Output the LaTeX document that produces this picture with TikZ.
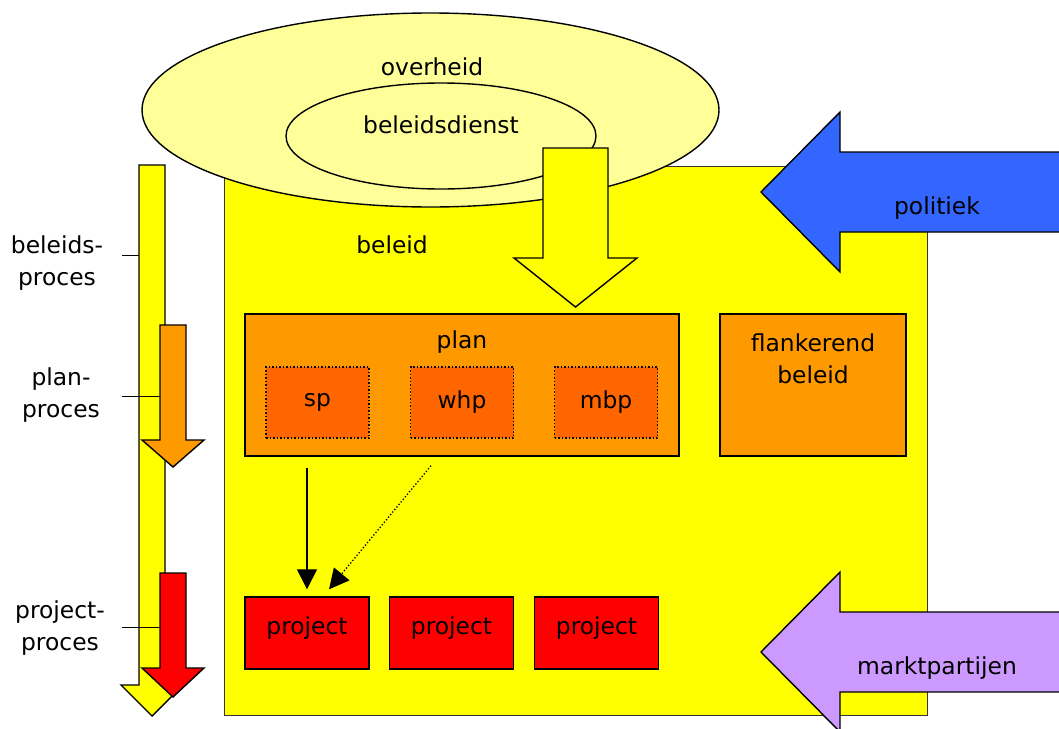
\documentclass[tikz,border=0pt]{standalone}
\usepackage{fontspec}
\setmainfont{DejaVu Sans}
\usetikzlibrary{arrows.meta,shapes.geometric,calc}
\definecolor{beleidyellow}{HTML}{FFFF00}
\definecolor{paleyellow}{HTML}{FFFF99}
\definecolor{planorange}{HTML}{FF9900}
\definecolor{subplan}{HTML}{FF6600}
\definecolor{projred}{HTML}{FF0000}
\definecolor{polblue}{HTML}{3366FF}
\definecolor{marktlilac}{HTML}{CC99FF}
\begin{document}
\begin{tikzpicture}[x=1pt,y=-1pt,
  txt/.style={font=\fontsize{23.4}{32}\selectfont, inner sep=0pt, align=center},
  outline/.style={draw=black, line width=1.4pt},
  blockarrow/.style={outline, line join=miter},
  planbox/.style={outline, fill=planorange, minimum width=434pt, minimum height=142pt, inner sep=0pt},
  subbox/.style={draw=black, dotted, line width=1.5pt, fill=subplan, minimum width=103pt, minimum height=71pt, inner sep=0pt, font=\fontsize{23.4}{32}\selectfont},
  projbox/.style={outline, fill=projred, minimum width=124pt, minimum height=72pt, inner sep=0pt,
    text height=18pt, text depth=15pt, font=\fontsize{23.4}{32}\selectfont},
  flow/.style={line width=1.3pt, -{Triangle[length=20pt,width=20pt]}},
  tick/.style={line width=0.8pt}
]
\clip (0,0) rectangle (1059,728);

% policy field
\node[draw=black!80, line width=0.8pt, fill=beleidyellow, minimum width=703pt, minimum height=549pt, inner sep=0pt]
  (beleid) at (575.5,440.5) {};

% government and its policy department
\node[outline, fill=paleyellow, ellipse, minimum width=577pt, minimum height=194pt, inner sep=0pt] (overheid) at (430.5,110) {};
\node[outline, fill=paleyellow, ellipse, minimum width=310pt, minimum height=106pt, inner sep=0pt] (dienst) at (441,136) {};
\node[txt] (overheid-label) at (432,67) {overheid};
\node[txt] (dienst-label) at (441,125) {beleidsdienst};

% downward block arrow from the policy department
\draw[blockarrow, fill=beleidyellow] (543,148) -- (608,148) -- (608,258) -- (637,258) -- (575.5,307) -- (514,258) -- (543,258) -- cycle;

\node[txt] (beleid-label) at (392,245) {beleid};

% plan with its sub-plans
\node[planbox] (plan) at (462,385) {};
\node[txt] (plan-label) at (462,342) {plan};
\node[subbox] (sp) at (317.5,402.5) {sp};
\node[subbox] (whp) at (462,402.5) {whp};
\node[subbox] (mbp) at (606,402.5) {mbp};

% supporting policy
\node[planbox, minimum width=186pt] (flank) at (813,385) {};
\node[txt] (flank-label) at (813,359) {flankerend\\beleid};

% projects
\node[projbox] (p1) at (307,633) {project};
\node[projbox] (p2) at (451.5,633) {project};
\node[projbox] (p3) at (596.5,633) {project};

\draw[flow, shorten <=11pt, shorten >=7pt] (plan.south -| p1.north) -- (p1.north);
\draw[flow, dotted] ($(plan.south)+(-31,9)$) -- ($(p1.north)+(22,-7)$);

% external influences
\draw[blockarrow, fill=polblue] (1070,152) -- (840,152) -- (840,112) -- (761,192) -- (840,272) -- (840,232) -- (1070,232) -- cycle;
\node[txt] (politiek) at (937,208) {politiek};
\draw[blockarrow, fill=marktlilac] (1070,612) -- (840,612) -- (840,572) -- (761,652) -- (840,732) -- (840,692) -- (1070,692) -- cycle;
\node[txt] (markt) at (937,668) {marktpartijen};

% process arrows on the left
\draw[blockarrow, fill=beleidyellow] (139,165) -- (165,165) -- (165,685) -- (183,685) -- (152,716) -- (121,685) -- (139,685) -- cycle;
\draw[blockarrow, fill=planorange] (160,325) -- (186,325) -- (186,440) -- (204,440) -- (173,467) -- (142,440) -- (160,440) -- cycle;
\draw[blockarrow, fill=projred] (160,573) -- (186,573) -- (186,668) -- (204,668) -- (173,697) -- (142,668) -- (160,668) -- cycle;

\node[txt] (beleidsproces) at (57,263) {beleids-\\proces};
\node[txt] (planproces) at (61,395) {plan-\\proces};
\node[txt] (projectproces) at (60,628) {project-\\proces};
\coordinate (t1) at (122,255);
\coordinate (t2) at (122,396);
\coordinate (t3) at (122,627);
\draw[tick] (t1) -- (139,255);
\draw[tick] (t2) -- (160,396);
\draw[tick] (t3) -- (160,627);
\end{tikzpicture}
\end{document}
